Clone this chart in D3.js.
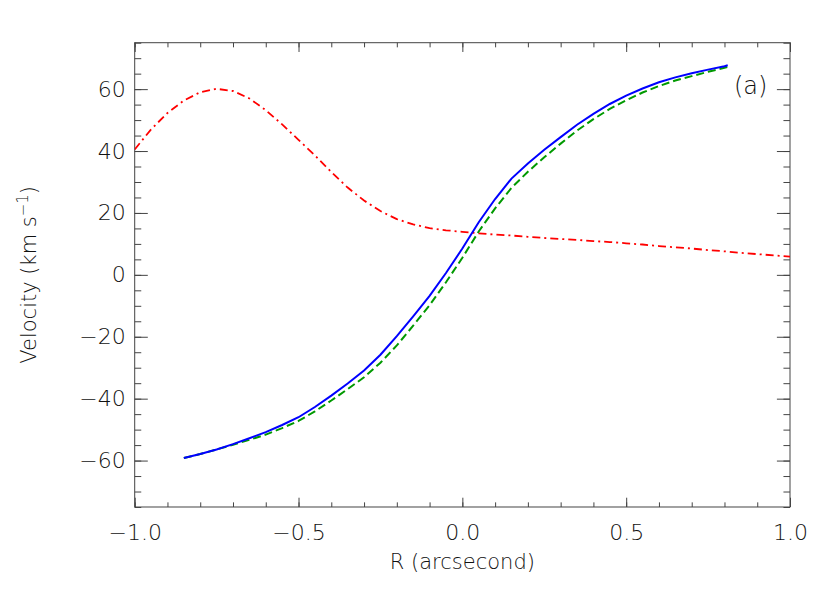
<!DOCTYPE html>
<html>
<head>
<meta charset="utf-8">
<script src="https://cdn.jsdelivr.net/npm/d3@7"></script>
<style>
  body { margin: 0; background: #fff; }
  text { font-family: "DejaVu Sans", sans-serif; font-weight: 200; fill: #111; }
</style>
</head>
<body>
<div id="chart"></div>
<script>
// radius in arcsec
let rBlue = [-0.85,-0.80,-0.75,-0.70,-0.65,-0.60,-0.55,-0.50,-0.45,-0.40,-0.35,-0.30,-0.25,-0.20,-0.15,-0.10,-0.05,
  0.00,0.05,0.10,0.15,0.20,0.25,0.30,0.35,0.40,0.45,0.50,0.55,0.60,0.65,0.70,0.75,0.80,0.81];
// solid blue curve
let vBlue = [-59.2,-57.9,-56.4,-54.7,-52.8,-50.8,-48.5,-46.0,-42.7,-39.0,-35.1,-30.9,-25.8,-19.8,-13.4,-6.8,0.6,
  8.5,17.0,24.5,31.1,36.0,40.4,44.5,48.5,52.0,55.2,57.9,60.2,62.2,63.8,65.1,66.3,67.4,67.7];
// dashed green curve
let vGreen = [-59.2,-57.9,-56.4,-54.9,-53.3,-51.6,-49.5,-47.2,-44.1,-40.6,-36.9,-33.1,-28.4,-22.8,-16.4,-9.8,-2.4,
  5.5,14.0,21.5,28.1,33.3,38.0,42.4,46.6,50.3,53.6,56.4,58.9,61.0,62.8,64.2,65.6,66.9,67.2];
// dash-dot red curve
let rRed = [-1.00,-0.95,-0.90,-0.85,-0.80,-0.75,-0.70,-0.65,-0.60,-0.55,-0.50,-0.45,-0.40,-0.35,-0.30,-0.25,-0.20,
  -0.15,-0.10,-0.05,0.00,0.05,0.10,0.15,0.20,0.25,0.30,0.35,0.40,0.45,0.50,0.55,0.60,0.65,0.70,0.75,0.80,0.85,0.90,0.95,1.00];
let vRed = [40.5,47.0,52.3,56.3,59.0,60.1,59.4,57.0,53.2,48.6,43.6,38.6,33.2,28.2,24.0,20.6,18.0,
  16.3,15.1,14.4,13.9,13.4,13.0,12.7,12.3,11.9,11.6,11.3,10.9,10.6,10.2,9.8,9.3,8.9,8.5,8.0,7.6,7.1,6.7,6.3,5.9];

let xMajor = [-1.0,-0.5,0.0,0.5,1.0];
let xMinor = d3.range(-10, 11).map(d => d / 10);
let yMajor = [-60,-40,-20,0,20,40,60];
let yMinor = d3.range(-15, 16).map(d => d * 5);

const W = 830, H = 593;
const margin = {top: 42.7, right: 40, bottom: 86, left: 134.7};
const width = W - margin.left - margin.right;
const height = H - margin.top - margin.bottom;

const svg = d3.select("#chart").append("svg")
    .attr("width", W)
    .attr("height", H);

const g = svg.append("g")
    .attr("transform", "translate(" + margin.left + "," + margin.top + ")");

const x = d3.scaleLinear().domain([-1, 1]).range([0, width]);
const y = d3.scaleLinear().domain([-75, 75]).range([height, 0]);

const fmtX = d => (d < 0 ? "\u2212" : "") + Math.abs(d).toFixed(1);
const fmtY = d => (d < 0 ? "\u2212" : "") + Math.abs(d);

const xLen = 0.02 * height, yLen = 0.02 * width;

function styleAxis(sel) {
  sel.select(".domain").remove();
  sel.selectAll("line").attr("stroke", "#444").attr("stroke-width", 1);
  sel.selectAll("text").attr("font-size", 22).style("fill", "#111");
}

// bottom
g.append("g").attr("transform", "translate(0," + height + ")")
  .call(d3.axisBottom(x).tickValues(xMinor).tickSize(-xLen / 2).tickFormat(""))
  .call(styleAxis);
g.append("g").attr("transform", "translate(0," + height + ")")
  .call(d3.axisBottom(x).tickValues(xMajor).tickSize(-xLen).tickPadding(17).tickFormat(fmtX))
  .call(styleAxis);
// top
g.append("g")
  .call(d3.axisTop(x).tickValues(xMinor).tickSize(-xLen / 2).tickFormat(""))
  .call(styleAxis);
g.append("g")
  .call(d3.axisTop(x).tickValues(xMajor).tickSize(-xLen).tickFormat(""))
  .call(styleAxis);
// left
g.append("g")
  .call(d3.axisLeft(y).tickValues(yMinor).tickSize(-yLen / 2).tickFormat(""))
  .call(styleAxis);
g.append("g")
  .call(d3.axisLeft(y).tickValues(yMajor).tickSize(-yLen).tickPadding(9).tickFormat(fmtY))
  .call(styleAxis);
// right
g.append("g").attr("transform", "translate(" + width + ",0)")
  .call(d3.axisRight(y).tickValues(yMinor).tickSize(-yLen / 2).tickFormat(""))
  .call(styleAxis);
g.append("g").attr("transform", "translate(" + width + ",0)")
  .call(d3.axisRight(y).tickValues(yMajor).tickSize(-yLen).tickFormat(""))
  .call(styleAxis);

// frame
g.append("rect")
  .attr("width", width).attr("height", height)
  .attr("fill", "none").attr("stroke", "#444").attr("stroke-width", 1);

g.append("defs").append("clipPath").attr("id", "clip")
  .append("rect").attr("width", width).attr("height", height);

const line = d3.line().x(d => x(d[0])).y(d => y(d[1]));
const curves = g.append("g").attr("clip-path", "url(#clip)");

curves.append("path")
  .datum(d3.zip(rRed, vRed))
  .attr("d", line)
  .attr("fill", "none").attr("stroke", "#ff0000").attr("stroke-width", 1.8)
  .attr("stroke-dasharray", "8,4,2,4");

curves.append("path")
  .datum(d3.zip(rBlue, vGreen))
  .attr("d", line)
  .attr("fill", "none").attr("stroke", "#009900").attr("stroke-width", 2)
  .attr("stroke-dasharray", "8,4");

curves.append("path")
  .datum(d3.zip(rBlue, vBlue))
  .attr("d", line)
  .attr("fill", "none").attr("stroke", "#0000ff").attr("stroke-width", 2);

// labels
g.append("text")
  .attr("x", width / 2).attr("y", height + 62)
  .attr("text-anchor", "middle").attr("font-size", 21)
  .text("R (arcsecond)");

const yl = svg.append("text")
  .attr("transform", "translate(36," + (margin.top + height / 2) + ") rotate(-90)")
  .attr("text-anchor", "middle").attr("font-size", 21);
yl.append("tspan").text("Velocity (km s");
yl.append("tspan").attr("dy", -8).attr("font-size", 15).text("\u22121");
yl.append("tspan").attr("dy", 8).text(")");

g.append("text")
  .attr("x", 616).attr("y", 51)
  .attr("text-anchor", "middle").attr("font-size", 24)
  .text("(a)");
</script>
</body>
</html>
